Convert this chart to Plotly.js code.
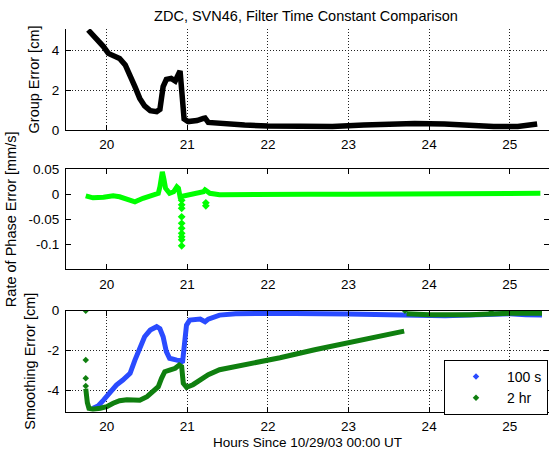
<!DOCTYPE html>
<html><head><meta charset="utf-8">
<script src="https://cdn.plot.ly/plotly-3.0.1.min.js"></script>
<style>html,body{margin:0;padding:0;background:#fff;overflow:hidden}#chart{width:549px;height:453px}</style>
</head><body><div id="chart"></div>
<script>
// ---- Data ----
const xTicks = [20, 21, 22, 23, 24, 25];
const xTickText = ['20', '21', '22', '23', '24', '25'];

// Panel 1: Group Error [cm]
const groupX = [19.77,19.87,19.96,20.02,20.08,20.16,20.23,20.29,20.35,20.41,20.47,20.54,20.62,20.66,20.68,20.70,20.74,20.80,20.85,20.89,20.91,20.93,20.94,20.96,21.01,21.12,21.20,21.22,21.26,21.38,21.5,21.71,22.0,22.41,22.8,23.19,23.5,23.82,24.19,24.54,24.8,25.1,25.25,25.34];
const groupY = [5.0,4.58,4.17,3.83,3.72,3.58,3.25,2.75,2.17,1.58,1.2,0.97,0.92,1.03,1.5,2.17,2.53,2.58,2.45,2.83,2.95,2.0,1.0,0.55,0.42,0.47,0.58,0.6,0.38,0.33,0.3,0.25,0.2,0.17,0.17,0.25,0.3,0.33,0.3,0.2,0.17,0.17,0.22,0.3];
const groupTicks = [0, 2, 4];
const groupTickText = ['0', '2', '4'];

// Panel 2: Rate of Phase Error [mm/s]
const phaseX = [19.74,19.83,19.96,20.08,20.16,20.25,20.35,20.45,20.56,20.64,20.66,20.68,20.69,20.71,20.73,20.78,20.83,20.87,20.89,20.91,20.97,21.03,21.16,21.20,21.22,21.25,21.28,21.4,21.8,22.5,23.0,23.5,24.0,24.5,25.0,25.3,25.38];
const phaseY = [-0.003,-0.007,-0.006,-0.003,-0.005,-0.01,-0.015,-0.008,-0.003,0.002,0.015,0.032,0.045,0.03,0.012,0.002,0.005,0.015,0.012,-0.005,-0.003,0,0.002,0.005,0.009,0.004,0.002,-0.001,0,0,0,0,0,0,0,0,0.002];
const phaseSpikeX = [20.93,20.93,20.93,20.93,20.93,20.93,20.93,20.93,20.93,20.93,21.23,21.23];
const phaseSpikeY = [-0.012,-0.021,-0.028,-0.045,-0.058,-0.068,-0.078,-0.085,-0.091,-0.103,-0.017,-0.023];
const phaseTicks = [0.05, 0, -0.05, -0.1];
const phaseTickText = ['0.05', '0', '-0.05', '-0.1'];

// Panel 3: Smoothing Error [cm]
const sm100X = [19.83,19.89,19.96,20.04,20.12,20.2,20.29,20.35,20.41,20.47,20.54,20.62,20.66,20.7,20.74,20.78,20.87,20.91,20.94,20.97,20.99,21.03,21.16,21.22,21.26,21.4,21.6,22.0,22.5,23.0,23.5,23.8,24.2,24.6,25.0,25.2,25.4];
const sm100Y = [-4.88,-4.77,-4.47,-4.05,-3.72,-3.47,-3.13,-2.47,-1.8,-1.3,-0.97,-0.8,-0.9,-1.3,-2.05,-2.38,-2.47,-2.5,-2.6,-1.3,-0.72,-0.47,-0.42,-0.55,-0.42,-0.22,-0.15,-0.13,-0.13,-0.17,-0.2,-0.22,-0.25,-0.2,-0.15,-0.2,-0.22];
const sm2hX = [19.74,19.75,19.76,19.78,19.83,19.92,20.0,20.08,20.16,20.25,20.33,20.41,20.5,20.58,20.64,20.68,20.72,20.78,20.85,20.9,20.93,20.95,20.99,21.07,21.2,21.26,21.4,21.71,22.15,22.58,23.02,23.45,23.69,null,23.72,24.0,24.5,24.8,25.0,25.4];
const sm2hY = [-3.9,-4.3,-4.6,-4.88,-4.93,-4.88,-4.8,-4.63,-4.5,-4.45,-4.48,-4.48,-4.3,-4.05,-3.8,-3.38,-3.05,-2.97,-2.88,-2.72,-2.8,-3.63,-3.83,-3.7,-3.33,-3.2,-2.95,-2.72,-2.35,-1.95,-1.57,-1.22,-1.02,null,-0.15,-0.2,-0.2,-0.15,-0.13,-0.13];
const sm2hPtsX = [19.74,19.74,19.74,19.74,23.70,24.77,25.15];
const sm2hPtsY = [0,-2.47,-3.38,-3.77,0,0,0];
const smTicks = [0, -2, -4];
const smTickText = ['0', '-2', '-4'];

const seriesNames = ['100 s', '2 hr'];
const colBlack = '#000000', colLime = '#00ff00', colBlue = '#2a4bff', colGreen = '#0f7f0f';

// ---- Traces ----
const traces = [
  {x: groupX, y: groupY, xaxis: 'x', yaxis: 'y', mode: 'lines', line: {color: colBlack, width: 5.5}, showlegend: false},
  {x: phaseX, y: phaseY, xaxis: 'x2', yaxis: 'y2', mode: 'lines', line: {color: colLime, width: 5}, showlegend: false},
  {x: phaseSpikeX, y: phaseSpikeY, xaxis: 'x2', yaxis: 'y2', mode: 'markers', marker: {color: colLime, size: 6, symbol: 'diamond'}, showlegend: false},
  {x: sm100X, y: sm100Y, xaxis: 'x3', yaxis: 'y3', mode: 'lines', line: {color: colBlue, width: 5}, showlegend: false},
  {x: sm2hX, y: sm2hY, xaxis: 'x3', yaxis: 'y3', mode: 'lines', connectgaps: false, line: {color: colGreen, width: 5}, showlegend: false},
  {x: sm2hPtsX, y: sm2hPtsY, xaxis: 'x3', yaxis: 'y3', mode: 'markers', marker: {color: colGreen, size: 5, symbol: 'diamond'}, showlegend: false},
  {x: [null], y: [null], xaxis: 'x3', yaxis: 'y3', mode: 'markers', name: seriesNames[0], marker: {color: colBlue, size: 5, symbol: 'diamond'}},
  {x: [null], y: [null], xaxis: 'x3', yaxis: 'y3', mode: 'markers', name: seriesNames[1], marker: {color: colGreen, size: 5, symbol: 'diamond'}}
];

const H = 453;
const fam = 'Liberation Sans, Arial, Helvetica, sans-serif';
const tickFont = {family: fam, size: 13.5, color: '#000'};
const yTitleFont = {family: fam, size: 14.5, color: '#000'};
const xRange = [19.495, 25.487];
function xAx(anchor, grid, mirror) {
  return {anchor: anchor, domain: [0, 1], range: xRange, tickvals: xTicks, ticktext: xTickText,
    ticks: 'inside', ticklen: 5, tickcolor: '#000', showline: true, linecolor: '#000', linewidth: 1,
    mirror: mirror, showgrid: grid, gridcolor: '#222', griddash: '1px,2px', gridwidth: 1, zeroline: false,
    tickfont: tickFont, ticklabelstandoff: 2};
}
function yAx(anchor, dom, rng, tv, tt, title, grid, mirror) {
  return {anchor: anchor, domain: dom, range: rng, tickvals: tv, ticktext: tt,
    ticks: 'inside', ticklen: 5, tickcolor: '#000', showline: true, linecolor: '#000', linewidth: 1,
    mirror: mirror, showgrid: grid, gridcolor: '#222', griddash: '1px,2px', gridwidth: 1, zeroline: false,
    tickfont: tickFont, ticklabelstandoff: 3, title: {text: title, font: yTitleFont, standoff: 8}};
}

const layout = {
  width: 549, height: 453,
  margin: {l: 66, r: 0, t: 0, b: 0},
  paper_bgcolor: '#fff', plot_bgcolor: '#fff',
  font: tickFont,
  title: {text: 'ZDC, SVN46, Filter Time Constant Comparison', font: {family: fam, size: 14.5, color: '#000'},
    x: 306/549, xref: 'container', xanchor: 'center', y: 1 - 16/H, yref: 'container', yanchor: 'middle'},
  xaxis: xAx('y', true, false),
  yaxis: yAx('x', [1 - 130/H, 1 - 29/H], [0, 5.05], groupTicks, groupTickText, 'Group Error [cm]', true, false),
  xaxis2: xAx('y2', false, 'ticks'),
  yaxis2: yAx('x2', [1 - 269.3/H, 1 - 169.3/H], [-0.15, 0.05], phaseTicks, phaseTickText, 'Rate of Phase Error [mm/s]', false, 'ticks'),
  xaxis3: Object.assign(xAx('y3', true, 'ticks'), {title: {text: 'Hours Since 10/29/03 00:00 UT', font: {family: fam, size: 13.5, color: '#000'}, standoff: 4}}),
  yaxis3: yAx('x3', [1 - 411.7/H, 1 - 310.7/H], [-5.05, 0], smTicks, smTickText, 'Smoothing Error [cm]', true, 'ticks'),
  legend: {x: (548 - 66) / 483, xanchor: 'right', y: 1 - 360/H, yanchor: 'top', bgcolor: '#fff',
    bordercolor: '#000', borderwidth: 1, font: {family: fam, size: 14, color: '#000'}, itemwidth: 52},
  showlegend: true
};

Plotly.newPlot('chart', traces, layout, {displayModeBar: false, staticPlot: true});
</script>
</body></html>
